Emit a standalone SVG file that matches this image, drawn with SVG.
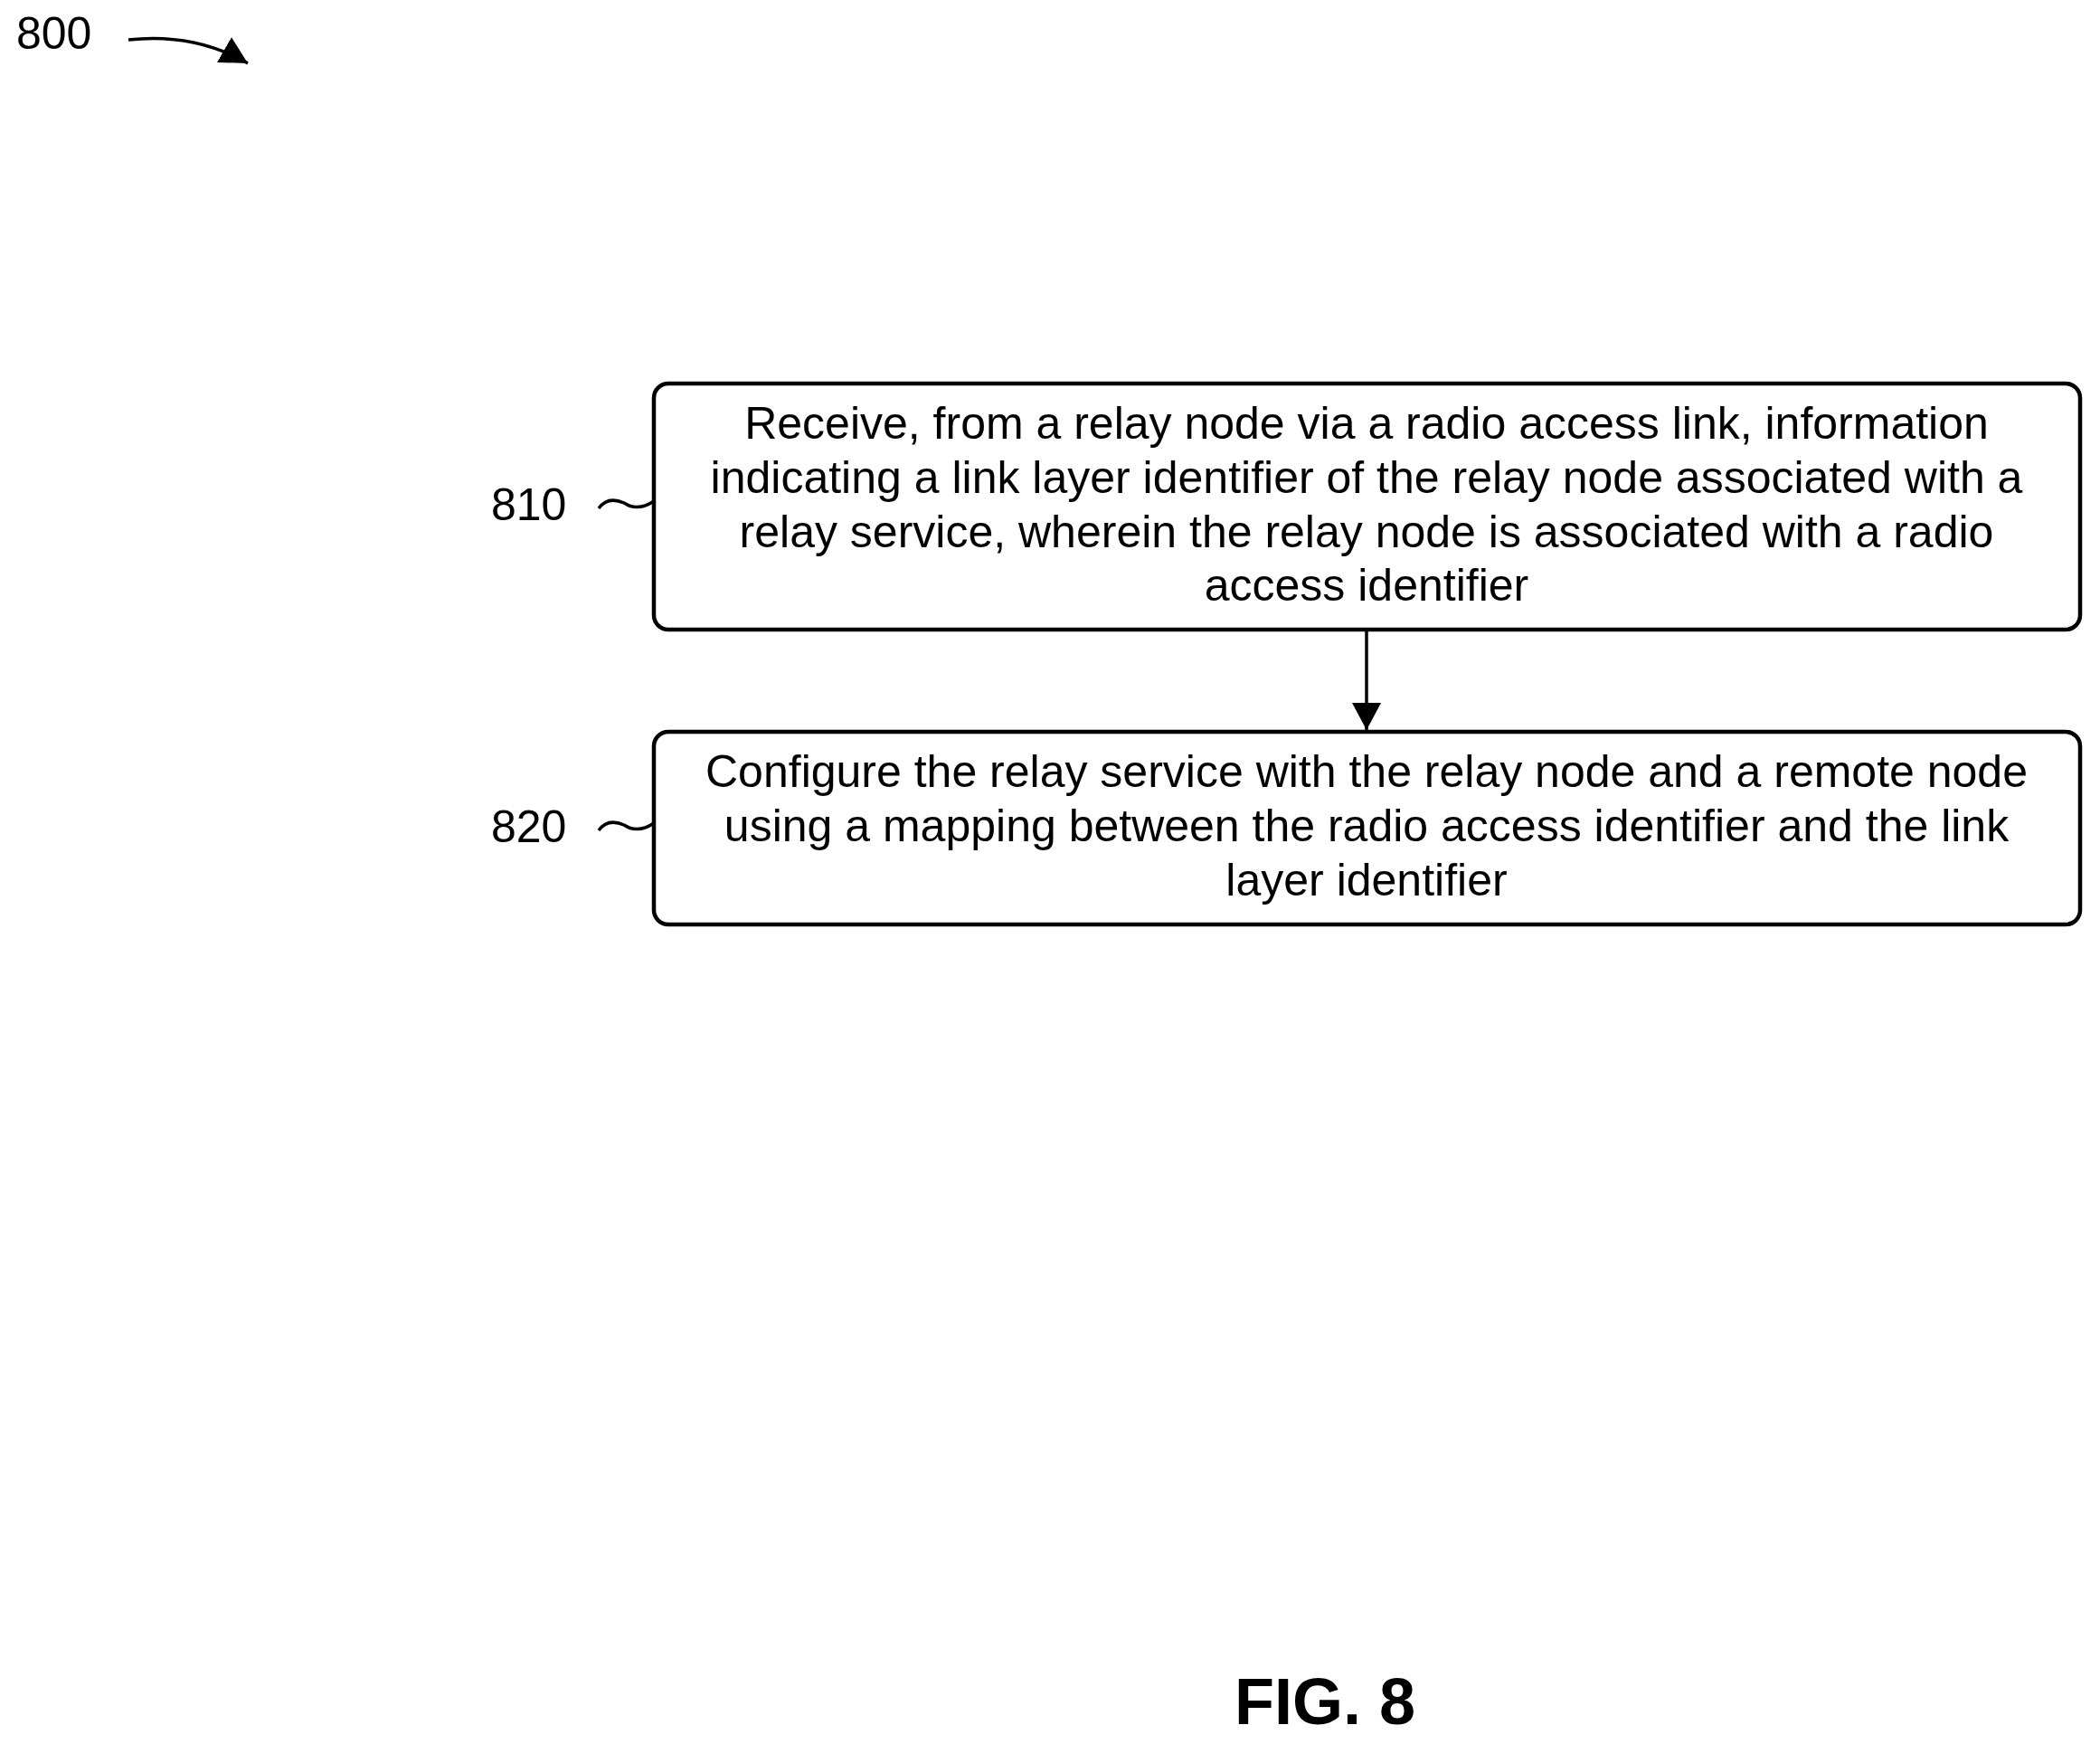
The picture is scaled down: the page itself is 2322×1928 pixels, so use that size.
<svg xmlns="http://www.w3.org/2000/svg" width="2322" height="1928" viewBox="0 0 2322 1928">
<style>
text{font-family:"Liberation Sans",Arial,sans-serif;fill:#000}
.t{font-size:50px;text-anchor:middle}
.l{font-size:50px}
.box{fill:#fff;stroke:#000;stroke-width:4.5}
.ln{fill:none;stroke:#000;stroke-width:3.5}
</style>
<defs>
<marker id="a2" markerWidth="32" markerHeight="40" refX="30" refY="20" orient="auto" markerUnits="userSpaceOnUse">
<path d="M0,4 L30,20 L0,36 z" fill="#000"/>
</marker>
</defs>
<text class="l" x="18" y="54">800</text>
<g id="connectors">
<path class="ln" d="M142,44 Q215,36 274,70" marker-end="url(#a2)"/>
<line class="ln" x1="1511" y1="696" x2="1511" y2="807" marker-end="url(#a2)"/>
<path class="ln" d="M662,562 Q672,548 690,556 Q705,566 723,554"/>
<path class="ln" d="M662,918 Q672,904 690,912 Q705,922 723,910"/>
</g>
<g id="n810">
<rect class="box" x="723" y="424" width="1577" height="272" rx="16"/>
<text class="t" x="1511" y="485">Receive, from a relay node via a radio access link, information</text>
<text class="t" x="1511" y="545">indicating a link layer identifier of the relay node associated with a</text>
<text class="t" x="1511" y="605">relay service, wherein the relay node is associated with a radio</text>
<text class="t" x="1511" y="664">access identifier</text>
<text class="l" x="543" y="575">810</text>
</g>
<g id="n820">
<rect class="box" x="723" y="809" width="1577" height="213" rx="16"/>
<text class="t" x="1511" y="870">Configure the relay service with the relay node and a remote node</text>
<text class="t" x="1511" y="930">using a mapping between the radio access identifier and the link</text>
<text class="t" x="1511" y="990">layer identifier</text>
<text class="l" x="543" y="931">820</text>
</g>
<text x="1465" y="1906" style="font-size:72px;font-weight:bold;text-anchor:middle">FIG. 8</text>
</svg>
